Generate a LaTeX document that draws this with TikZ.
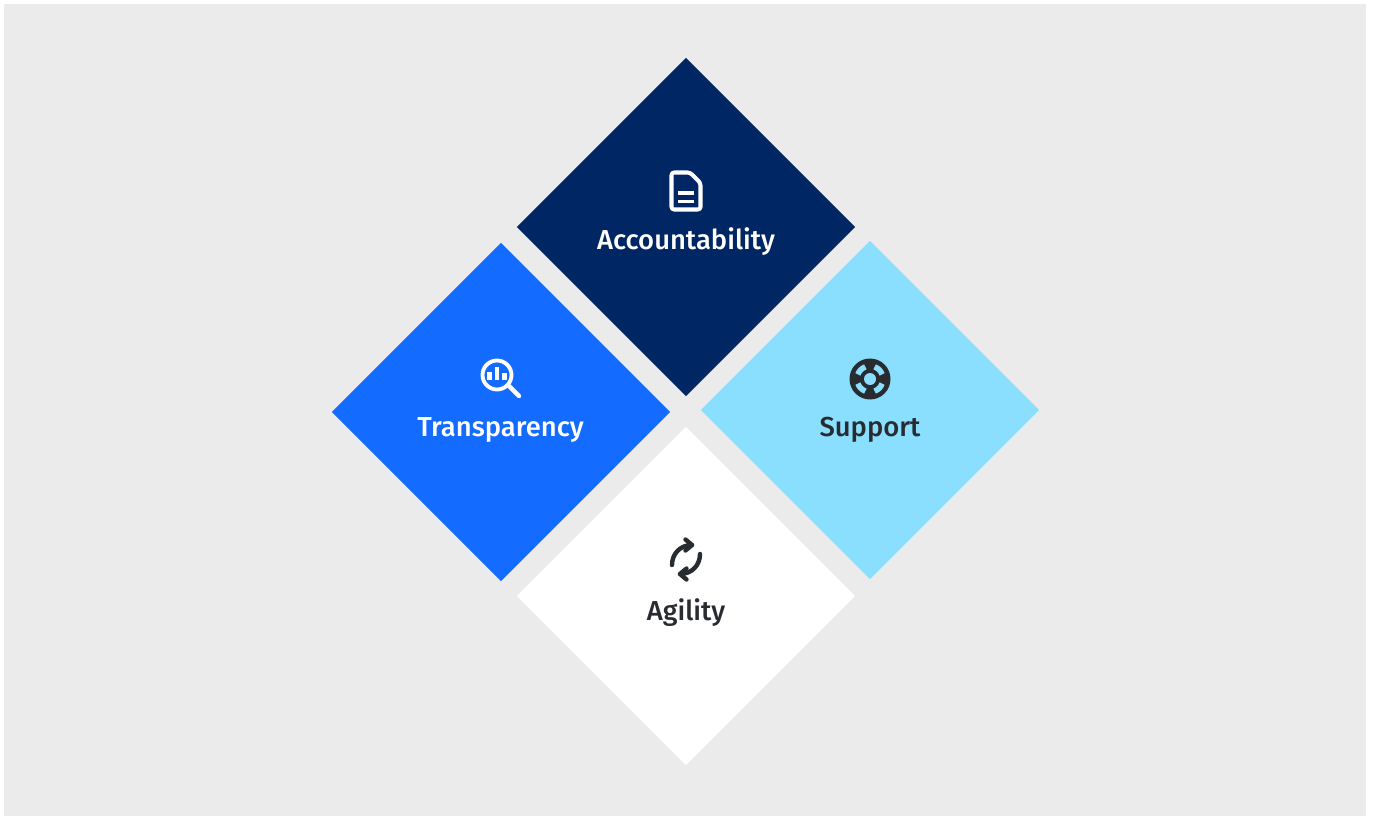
\documentclass[tikz,border=0pt]{standalone}
\usepackage{fontspec}
\usepackage{xcolor}
\usetikzlibrary{
    shapes.geometric
}
\setmainfont{Fira Sans}[UprightFont=* Medium]
\definecolor{panelgray}{HTML}{EBEBEB}
\definecolor{accountnavy}{HTML}{002663}
\definecolor{transblue}{HTML}{146BFF}
\definecolor{supportcyan}{HTML}{8ADFFF}
\definecolor{inkdark}{HTML}{282B30}
\tikzset{
    tile/.style={diamond, aspect=1, minimum width=6.77cm, minimum height=6.77cm, inner sep=0pt},
    caption/.style={font=\fontsize{15.6pt}{17pt}\selectfont, inner sep=0pt}
}

\begin{document}
\begin{tikzpicture}[x=0.02cm, y=0.02cm]
            \useasboundingbox (0,0) rectangle (1373,816);
            \fill[panelgray] (4,0) rectangle (1366,812);

            \node[tile, fill=accountnavy] (account) at (686,589) {};
            \node[tile, fill=transblue] (trans) at (501,404) {};
            \node[tile, fill=supportcyan] (support) at (870,406) {};
            \node[tile, fill=white] (agility) at (686,220) {};

            \node[caption, text=white] (accountlabel) at (686,574) {Accountability};
            \node[caption, text=white] (translabel) at (500.5,386) {Transparency};
            \node[caption, text=inkdark] (supportlabel) at (870,386) {Support};
            \node[caption, text=inkdark] (agilitylabel) at (686,203) {Agility};

            % document
            \draw[white, line width=2.3pt, line join=round, rounded corners=1.5pt] (671.5,643.5) -- (690,643.5) -- (700.5,633) -- (700.5,606.5) -- (671.5,606.5) -- cycle;
            \draw[white, line width=2.1pt] (678,623) -- (694,623);
            \draw[white, line width=2.1pt] (678,614.5) -- (694,614.5);

            % magnifier
            \draw[white, line width=2.2pt] (497,441) circle (14.5);
            \draw[white, line width=2.5pt, line cap=round] (509,430) -- (519,420);
            \draw[white, line width=2.3pt] (489.5,436) -- (489.5,444);
            \draw[white, line width=2.3pt] (497,436) -- (497,449);
            \draw[white, line width=2.3pt] (504.5,436) -- (504.5,443);

            % lifebuoy
            \fill[inkdark] (870,437) circle (20.5);
            \fill[supportcyan] (870,437) circle (6);
            \foreach \ang in {45,135,225,315} {
                \draw[supportcyan, line width=3.2pt] (870,437) ++(\ang-24:13) arc[start angle=\ang-24, end angle=\ang+24, radius=13];
            }

            % arrows
            \draw[inkdark, line width=2.5pt, line cap=round] (672,251) .. controls (672,262) and (680,271) .. (692,271);
            \draw[inkdark, line width=2.5pt, line cap=round, line join=round] (685.5,276.5) -- (692,271) -- (685.5,265.5);
            \draw[inkdark, line width=2.5pt, line cap=round] (700,262) .. controls (700,251) and (692,242) .. (680,242);
            \draw[inkdark, line width=2.5pt, line cap=round, line join=round] (686.5,247.5) -- (680,242) -- (686.5,236.5);
\end{tikzpicture}
\end{document}
